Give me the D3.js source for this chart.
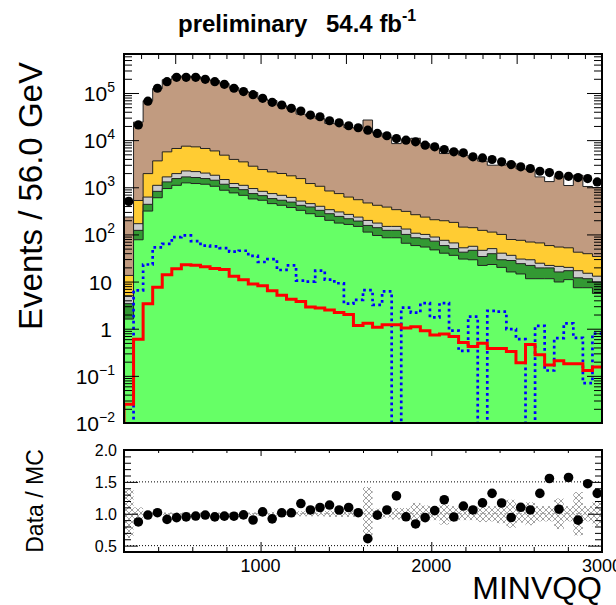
<!DOCTYPE html>
<html>
<head>
<meta charset="utf-8">
<script src="https://cdn.jsdelivr.net/npm/d3@7"></script>
<style>
  body { margin: 0; background: #fff; }
  text { font-family: "Liberation Sans", Arial, Helvetica, sans-serif; fill: #000; }
</style>
</head>
<body>
<div id="chart"></div>
<script>
// binning: 50 bins of 56 GeV
var binEdges = d3.range(200, 3001, 56);

// events per bin (upper pad)
var dataVals = [500, 21000, 67000, 126000, 174000, 215000, 215000, 215000, 195000, 174000,
  153000, 126000, 107000, 92000, 77000, 63500, 55600, 47200, 41400, 34000,
  31300, 25800, 23300, 20200, 18300, 16300, 13900, 12400, 10800, 10000,
  9200, 7830, 7200, 6330, 5650, 5370, 4420, 4200, 3880, 3460,
  3030, 2710, 2500, 2190, 2050, 1800, 1710, 1610, 1530, 1300];

// stacked MC, cumulative tops (brown = total)
var mcTotal = [234, 24100, 68400, 124000, 191000, 229000, 226000, 223000, 199000, 183000,
  159000, 131000, 109000, 102000, 74800, 69000, 54800, 46500, 35700, 32100,
  28500, 22700, 22000, 18400, 18000, 26700, 14200, 11700, 8440, 10500,
  10950, 8330, 6860, 5190, 5950, 4790, 4170, 3590, 2940, 2960,
  3220, 2460, 2360, 1660, 1320, 1680, 1090, 1790, 1040, 985];
var topYellow = [13.5, 525, 1950, 3630, 5640, 6650, 7450, 7200, 6650, 5900,
  4800, 3900, 3460, 2800, 2380, 2120, 1960, 1750, 1530, 1200,
  1050, 835, 735, 620, 545, 465, 415, 380, 335, 308,
  262, 233, 205, 195, 180, 143, 139, 122, 112, 100,
  78, 75, 69, 66, 58, 54, 52, 42, 39, 34];
var topGray = [5, 169, 620, 1100, 1660, 1950, 2220, 2150, 2000, 1800,
  1460, 1200, 1100, 940, 820, 735, 675, 610, 510, 450,
  395, 335, 300, 266, 233, 198, 174, 148, 148, 130,
  106, 100, 88, 75, 66, 52, 56, 46, 50, 40,
  36, 30, 29, 24.5, 22, 21, 20, 17, 15, 13];
var topDarkGreen = [3.4, 122, 435, 820, 1300, 1530, 1660, 1610, 1530, 1410,
  1160, 985, 890, 735, 665, 575, 530, 485, 414, 382,
  324, 275, 241, 215, 192, 155, 139, 122, 122, 100,
  85, 81, 72, 58, 50, 42, 46, 34, 39, 29,
  28, 24, 22, 19.5, 19.5, 16, 17, 12, 11.5, 9.8];
var topLightGreen = [1.6, 77, 313, 600, 940, 1100, 1240, 1200, 1160, 1050,
  865, 760, 675, 565, 530, 450, 415, 372, 324, 275,
  241, 199, 174, 163, 148, 112, 95, 85, 85, 65,
  58, 54, 47, 40, 36, 30, 29, 22, 23, 20,
  16, 14.5, 11.5, 11.5, 11.5, 9.8, 11, 7.4, 7.4, 5.6];

// signal histograms
var sigRed = [0.025, 0.60, 3.4, 7.6, 14, 18.6, 22.6, 22.3, 20.5, 19,
  18, 12.9, 10.9, 8.9, 8.2, 6.4, 5.1, 4.2, 3.8, 2.9,
  2.75, 2.5, 2.2, 2.0, 1.17, 1.3, 1.07, 1.22, 1.22, 1.04,
  1.1, 0.91, 0.74, 0.77, 0.68, 0.51, 0.42, 0.49, 0.38, 0.38,
  0.33, 0.19, 0.46, 0.28, 0.17, 0.21, 0.18, 0.18, 0.13, 0.155];
var sigBlue = [0, 6.5, 23, 53, 63, 88, 95, 72, 58, 56,
  51, 43, 45, 35, 26, 30, 17.6, 22, 10.5, 10,
  17, 11, 9.2, 3.4, 4.1, 6.6, 3.2, 6.2, 0, 2.8,
  2.2, 3.5, 1.74, 3.5, 0.91, 0.34, 1.8, 0, 2.4, 2.3,
  0.98, 0.60, 0, 1.15, 0.13, 0.63, 1.3, 0.64, 0.07, 0.79];

// MC relative uncertainty (ratio pad)
var mcErr = [0.38, 0.10, 0.03, 0.02, 0.02, 0.02, 0.02, 0.02, 0.02, 0.02,
  0.02, 0.02, 0.02, 0.02, 0.03, 0.03, 0.03, 0.03, 0.04, 0.04,
  0.04, 0.05, 0.05, 0.05, 0.05, 0.42, 0.08, 0.06, 0.09, 0.09,
  0.17, 0.13, 0.10, 0.17, 0.12, 0.10, 0.10, 0.13, 0.12, 0.15,
  0.22, 0.14, 0.18, 0.12, 0.12, 0.24, 0.12, 0.34, 0.12, 0.20];

var xTickLabels = [1000, 2000, 3000];
var yTickLabels = [
  {v: 1e-2, base: "10", exp: "\u22122"}, {v: 1e-1, base: "10", exp: "\u22121"},
  {v: 1, base: "1", exp: ""}, {v: 10, base: "10", exp: ""},
  {v: 1e2, base: "10", exp: "2"}, {v: 1e3, base: "10", exp: "3"},
  {v: 1e4, base: "10", exp: "4"}, {v: 1e5, base: "10", exp: "5"}];
var ratioTickLabels = [0.5, 1.0, 1.5, 2.0];

// layout
var W = 616, H = 605;
var left = 124, right = 602;
var upTop = 54, upBot = 423;
var loTop = 450, loBot = 552;

var svg = d3.select("#chart").append("svg")
  .attr("width", W).attr("height", H);

var defs = svg.append("defs");
defs.append("clipPath").attr("id", "clipUp")
  .append("rect").attr("x", left).attr("y", upTop).attr("width", right - left).attr("height", upBot - upTop);
defs.append("clipPath").attr("id", "clipLo")
  .append("rect").attr("x", left).attr("y", loTop).attr("width", right - left).attr("height", loBot - loTop);
var hatch = defs.append("pattern").attr("id", "hatch")
  .attr("patternUnits", "userSpaceOnUse").attr("width", 6).attr("height", 6);
hatch.append("path").attr("d", "M0,0 L6,6 M6,0 L0,6 M-1,5 L1,7 M5,-1 L7,1")
  .attr("stroke", "#8a8a8a").attr("stroke-width", 0.8).attr("fill", "none");

// scales
var x = d3.scaleLinear().domain([200, 3000]).range([left, right]);
var y = d3.scaleLog().domain([1e-2, Math.pow(10, 5.827)]).range([upBot, upTop]).clamp(true);
var yr = d3.scaleLinear().domain([0.4, 2.0]).range([loBot, loTop]);

function yv(v) { return v > 0 ? y(v) : upBot + 5; }

// expand a histogram into step points
function steps(vals) {
  var pts = [];
  vals.forEach(function(v, i) {
    pts.push([binEdges[i], v]);
    pts.push([binEdges[i + 1], v]);
  });
  return pts;
}

var area = d3.area()
  .x(function(d) { return x(d[0]); })
  .y0(upBot + 5)
  .y1(function(d) { return yv(d[1]); });

var line = d3.line()
  .x(function(d) { return x(d[0]); })
  .y(function(d) { return yv(d[1]); });

var up = svg.append("g").attr("clip-path", "url(#clipUp)");

// stack, drawn back to front
var layers = [
  {vals: mcTotal, color: "#c19b80"},
  {vals: topYellow, color: "#ffcc33"},
  {vals: topGray, color: "#cccccc"},
  {vals: topDarkGreen, color: "#339933"},
  {vals: topLightGreen, color: "#66ff66"}
];
layers.forEach(function(l) {
  up.append("path")
    .datum(steps(l.vals))
    .attr("d", area)
    .attr("fill", l.color)
    .attr("stroke", "#222")
    .attr("stroke-width", 1);
});

// signals
function sigPts(vals) {
  var p = steps(vals);
  p.unshift([binEdges[0], 0]);
  return p;
}
up.append("path").datum(sigPts(sigBlue)).attr("d", line)
  .attr("fill", "none").attr("stroke", "#0000ff").attr("stroke-width", 2.7)
  .attr("stroke-dasharray", "2.7,3.3");
up.append("path").datum(sigPts(sigRed)).attr("d", line)
  .attr("fill", "none").attr("stroke", "#ff0000").attr("stroke-width", 3);

// data points
up.selectAll("circle.data").data(dataVals).enter().append("circle")
  .attr("class", "data")
  .attr("cx", function(d, i) { return x((binEdges[i] + binEdges[i + 1]) / 2); })
  .attr("cy", function(d) { return y(d); })
  .attr("r", 4.6)
  .attr("fill", "#000");

// upper frame and ticks
function tickGroup(g) { g.select(".domain").remove(); g.selectAll("line").attr("stroke", "#000").attr("stroke-width", 1); }

var decades = d3.range(-2, 6).map(function(e) { return Math.pow(10, e); });
var minors = [];
decades.forEach(function(d) { for (var k = 2; k <= 9; k++) if (d * k < Math.pow(10, 5.827)) minors.push(d * k); });

svg.append("g").attr("transform", "translate(" + left + ",0)")
  .call(d3.axisRight(y).tickValues(decades).tickSize(15).tickFormat("")).call(tickGroup);
svg.append("g").attr("transform", "translate(" + left + ",0)")
  .call(d3.axisRight(y).tickValues(minors).tickSize(8).tickFormat("")).call(tickGroup);
svg.append("g").attr("transform", "translate(" + right + ",0)")
  .call(d3.axisLeft(y).tickValues(decades).tickSize(15).tickFormat("")).call(tickGroup);
svg.append("g").attr("transform", "translate(" + right + ",0)")
  .call(d3.axisLeft(y).tickValues(minors).tickSize(8).tickFormat("")).call(tickGroup);

var hundreds = d3.range(300, 3000, 100).filter(function(v) { return v % 500 != 0; });
var fives = d3.range(500, 3000, 500);
svg.append("g").attr("transform", "translate(0," + upTop + ")")
  .call(d3.axisBottom(x).tickValues(hundreds).tickSize(5).tickFormat("")).call(tickGroup);
svg.append("g").attr("transform", "translate(0," + upTop + ")")
  .call(d3.axisBottom(x).tickValues(fives).tickSize(10).tickFormat("")).call(tickGroup);

svg.append("rect").attr("x", left).attr("y", upTop).attr("width", right - left).attr("height", upBot - upTop)
  .attr("fill", "none").attr("stroke", "#000").attr("stroke-width", 2);

// upper y labels
var ylab = svg.append("g");
yTickLabels.forEach(function(t) {
  var tx = ylab.append("text")
    .attr("x", t.exp ? 115 : 112)
    .attr("y", y(t.v) + 8)
    .attr("text-anchor", "end")
    .style("font-size", "21px");
  tx.append("tspan").text(t.base);
  if (t.exp) tx.append("tspan").attr("dy", -9).style("font-size", "14px").text(t.exp);
});

// lower pad
var lo = svg.append("g").attr("clip-path", "url(#clipLo)");

lo.selectAll("rect.err").data(mcErr).enter().append("rect")
  .attr("class", "err")
  .attr("x", function(d, i) { return x(binEdges[i]); })
  .attr("width", function(d, i) { return x(binEdges[i + 1]) - x(binEdges[i]); })
  .attr("y", function(d) { return yr(1 + d); })
  .attr("height", function(d) { return yr(1 - d) - yr(1 + d); })
  .attr("fill", "url(#hatch)");

[0.5, 1.5].forEach(function(v) {
  lo.append("line").attr("x1", left).attr("x2", right).attr("y1", yr(v)).attr("y2", yr(v))
    .attr("stroke", "#000").attr("stroke-width", 1).attr("stroke-dasharray", "1,2");
});
lo.append("line").attr("x1", left).attr("x2", right).attr("y1", yr(1)).attr("y2", yr(1))
  .attr("stroke", "#999").attr("stroke-width", 1).attr("stroke-dasharray", "2,2");

var ratio = dataVals.map(function(d, i) { return {i: i, r: d / mcTotal[i]}; })
  .filter(function(p) { return p.r >= 0.4 && p.r <= 2.0; });
lo.selectAll("circle.ratio").data(ratio).enter().append("circle")
  .attr("class", "ratio")
  .attr("cx", function(d) { return x((binEdges[d.i] + binEdges[d.i + 1]) / 2); })
  .attr("cy", function(d) { return yr(d.r); })
  .attr("r", 4.8)
  .attr("fill", "#000");

var rMajor = [0.5, 1.0, 1.5, 2.0];
var rMinor = d3.range(0.4, 2.0, 0.1).filter(function(v) { return Math.abs(v * 2 - Math.round(v * 2)) > 0.01; });
svg.append("g").attr("transform", "translate(" + left + ",0)")
  .call(d3.axisRight(yr).tickValues(rMajor).tickSize(14).tickFormat("")).call(tickGroup);
svg.append("g").attr("transform", "translate(" + left + ",0)")
  .call(d3.axisRight(yr).tickValues(rMinor).tickSize(7).tickFormat("")).call(tickGroup);
svg.append("g").attr("transform", "translate(" + right + ",0)")
  .call(d3.axisLeft(yr).tickValues(rMajor).tickSize(14).tickFormat("")).call(tickGroup);
svg.append("g").attr("transform", "translate(" + right + ",0)")
  .call(d3.axisLeft(yr).tickValues(rMinor).tickSize(7).tickFormat("")).call(tickGroup);

var twoH = d3.range(400, 3000, 200).filter(function(v) { return v % 1000 != 0; });
var thou = [1000, 2000];
svg.append("g").attr("transform", "translate(0," + loTop + ")")
  .call(d3.axisBottom(x).tickValues(twoH).tickSize(3).tickFormat("")).call(tickGroup);
svg.append("g").attr("transform", "translate(0," + loTop + ")")
  .call(d3.axisBottom(x).tickValues(thou).tickSize(6).tickFormat("")).call(tickGroup);
svg.append("g").attr("transform", "translate(0," + loBot + ")")
  .call(d3.axisTop(x).tickValues(twoH).tickSize(5).tickFormat("")).call(tickGroup);
svg.append("g").attr("transform", "translate(0," + loBot + ")")
  .call(d3.axisTop(x).tickValues(thou).tickSize(10).tickFormat("")).call(tickGroup);

svg.append("rect").attr("x", left).attr("y", loTop).attr("width", right - left).attr("height", loBot - loTop)
  .attr("fill", "none").attr("stroke", "#000").attr("stroke-width", 2);

ratioTickLabels.forEach(function(v) {
  svg.append("text").attr("x", 117).attr("y", yr(v) + 6)
    .attr("text-anchor", "end").style("font-size", "16px").text(v.toFixed(1));
});
xTickLabels.forEach(function(v) {
  svg.append("text").attr("x", x(v)).attr("y", 572)
    .attr("text-anchor", "middle").style("font-size", "18px").text(v);
});

// titles
svg.append("text").attr("x", 178).attr("y", 32).style("font-size", "24px").style("font-weight", "bold")
  .text("preliminary");
var lumi = svg.append("text").attr("x", 326).attr("y", 32).style("font-size", "24px").style("font-weight", "bold");
lumi.append("tspan").text("54.4 fb");
lumi.append("tspan").attr("dy", -11).style("font-size", "16px").text("-1");

svg.append("text")
  .attr("transform", "translate(42,196) rotate(-90)")
  .attr("text-anchor", "middle").style("font-size", "33px")
  .text("Events / 56.0 GeV");
svg.append("text")
  .attr("transform", "translate(43," + ((loTop + loBot) / 2) + ") rotate(-90)")
  .attr("text-anchor", "middle").style("font-size", "23px")
  .text("Data / MC");
svg.append("text").attr("x", right).attr("y", 599).attr("text-anchor", "end")
  .style("font-size", "32px").text("MINVQQ");
</script>
</body>
</html>
